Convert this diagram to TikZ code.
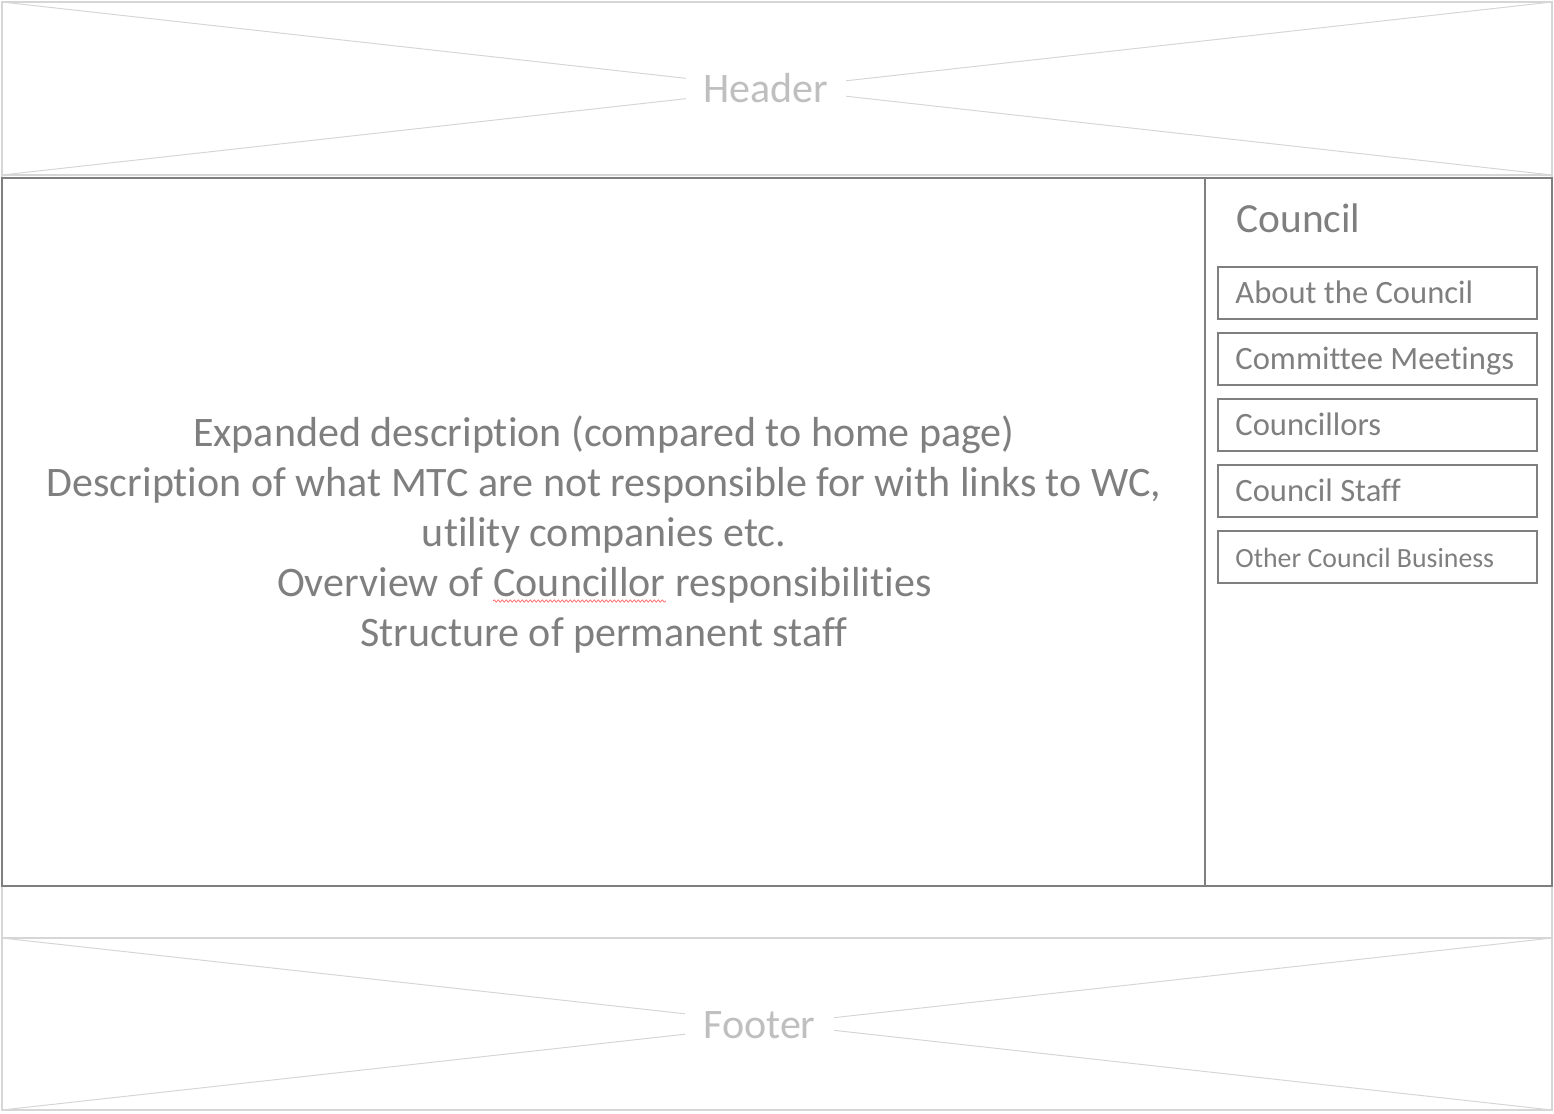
\documentclass[tikz,border=0pt]{standalone}
\usepackage{fontspec}
\setmainfont[Ligatures=NoCommon]{Carlito}
\usetikzlibrary{positioning,decorations.pathmorphing}
\definecolor{frame}{HTML}{D6D6D6}
\definecolor{ink}{HTML}{7F7F7F}
\definecolor{pale}{HTML}{BFBFBF}

\begin{document}
\begin{tikzpicture}[x=0.5pt,y=-0.5pt,
    rim/.style={draw=frame,line width=0.9pt},
    wire/.style={draw=frame,line width=0.5pt},
    panel/.style={draw=ink,line width=1pt},
    banner/.style={fill=white,text=pale,font=\fontsize{21}{25}\selectfont,
      inner xsep=9pt,inner ysep=3pt,anchor=base},
    body/.style={text=ink,font=\fontsize{21}{25}\selectfont,inner sep=0pt,anchor=base},
    navbox/.style={draw=ink,line width=1pt,minimum width=159.5pt,minimum height=26pt,inner sep=0pt},
    navlabel/.style={text=ink,inner sep=0pt,anchor=base west}]
  \useasboundingbox (0,0) rectangle (1554,1114);
  % header and footer placeholders
  \draw[rim] (2,2) rectangle (1552,1110);
  \draw[rim] (2,175) -- (1552,175);
  \draw[rim] (2,938) -- (1552,938);
  \draw[wire] (2,2) -- (1552,175) (2,175) -- (1552,2);
  \draw[wire] (2,938) -- (1552,1110) (2,1110) -- (1552,938);
  \node[banner] (header) at (766,102) {Header};
  \node[banner] (footer) at (759.5,1038) {Footer};
  % content area
  \draw[panel] (2,178) rectangle (1552,886);
  \draw[panel] (1205,178) -- (1205,886);
  \node[body] (expand) at (604,446.5) {Expanded description (compared to home page)};
  \node[body] (resp) at (604,496) {Description of what MTC are not responsible for with links to WC,};
  \node[body] (util) at (604,546) {utility companies etc.};
  \node[body] (cllr) at (579.5,596) {Councillor};
  \node[body,base left=4.7pt of cllr] (overview) {Overview of};
  \node[body,base right=4.7pt of cllr] (duties) {responsibilities};
  \node[body] (staff) at (604,646) {Structure of permanent staff};
  \draw[red!60,line width=0.35pt,decorate,decoration={snake,amplitude=0.6pt,segment length=2pt}]
    ([yshift=-2.5pt]cllr.base west) -- ([yshift=-2.5pt]cllr.base east);
  % side menu
  \node[body,anchor=base west,font=\fontsize{20.7}{25}\selectfont] (council) at (1236,232.5) {Council};
  \foreach \y/\name/\size/\txt in {293/about/16.3/About the Council,
      359/meetings/16.3/Committee Meetings,
      425/members/16.3/Councillors,
      491/officers/16.3/Council Staff,
      557/business/13.9/Other Council Business} {
    \node[navbox] (\name) at (1377.5,\y) {};
    \node[navlabel,font=\fontsize{\size}{20}\selectfont] at ([xshift=9pt,yshift=-5.3pt]\name.west) {\txt};
  }
\end{tikzpicture}
\end{document}
